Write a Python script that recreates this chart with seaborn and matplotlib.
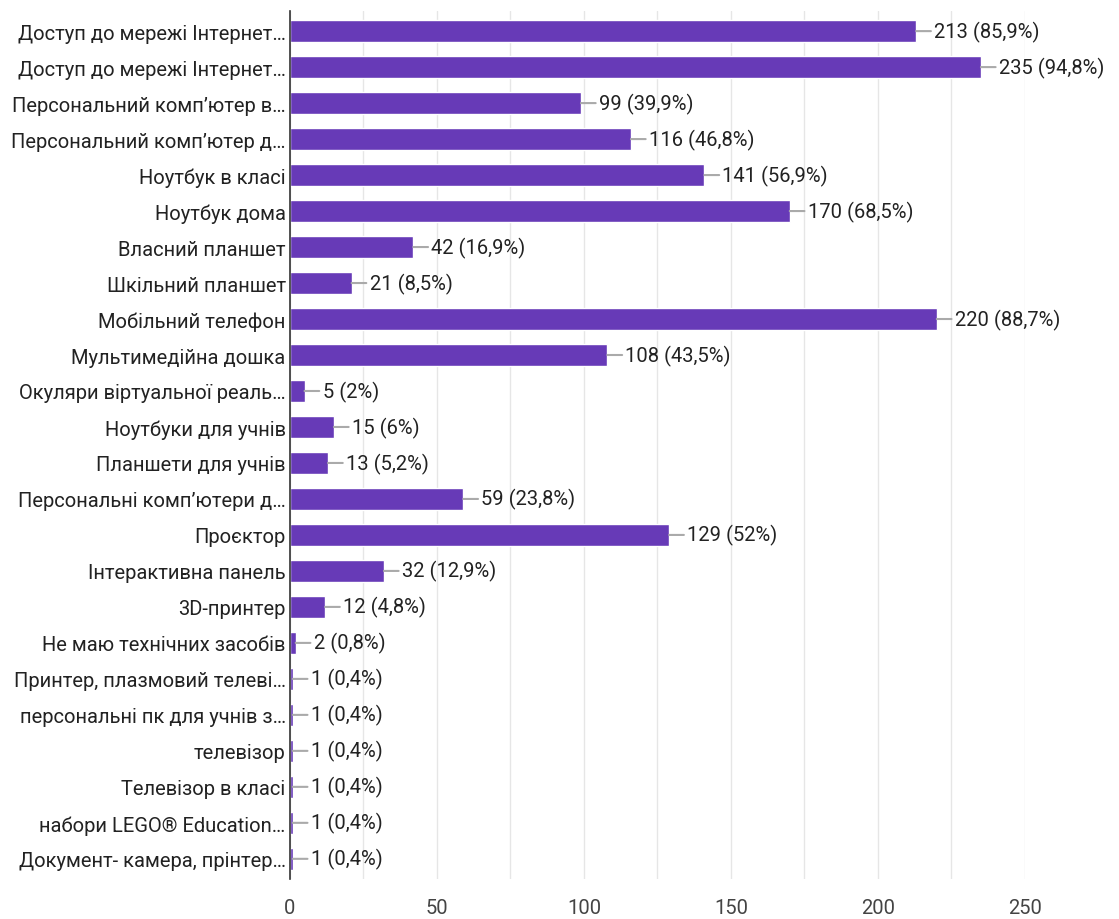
import pandas as pd
import seaborn as sns
import matplotlib.pyplot as plt

categories = [
    "Доступ до мережі Інтернет…",
    "Доступ до мережі Інтернет…",
    "Персональний комп’ютер в…",
    "Персональний комп’ютер д…",
    "Ноутбук в класі",
    "Ноутбук дома",
    "Власний планшет",
    "Шкільний планшет",
    "Мобільний телефон",
    "Мультимедійна дошка",
    "Окуляри віртуальної реаль…",
    "Ноутбуки для учнів",
    "Планшети для учнів",
    "Персональні комп’ютери д…",
    "Проєктор",
    "Інтерактивна панель",
    "3D-принтер",
    "Не маю технічних засобів",
    "Принтер, плазмовий телеві…",
    "персональні пк для учнів з…",
    "телевізор",
    "Телевізор в класі",
    "набори LEGO® Education…",
    "Документ- камера, прінтер…",
]
counts = [213, 235, 99, 116, 141, 170, 42, 21, 220, 108, 5, 15, 13, 59,
          129, 32, 12, 2, 1, 1, 1, 1, 1, 1]
percents = ["85,9", "94,8", "39,9", "46,8", "56,9", "68,5", "16,9", "8,5",
            "88,7", "43,5", "2", "6", "5,2", "23,8", "52", "12,9", "4,8",
            "0,8", "0,4", "0,4", "0,4", "0,4", "0,4", "0,4"]
x_ticks = [0, 50, 100, 150, 200, 250]

sns.set_style("white")
plt.rcParams["font.family"] = ["Roboto", "DejaVu Sans"]

df = pd.DataFrame({"pos": [str(i) for i in range(len(counts))], "count": counts})

fig = plt.figure(figsize=(11.19, 9.2), dpi=100)
ax = fig.add_axes([0.259, 0.0435, 0.657, 0.9435])

sns.barplot(data=df, x="count", y="pos", orient="h", color="#673ab7",
            saturation=1, width=0.62, ax=ax)

for i, (c, p) in enumerate(zip(counts, percents)):
    ax.annotate(f"{c} ({p}%)", xy=(c, i), xytext=(18, 0),
                textcoords="offset pixels", ha="left", va="center",
                fontsize=14.5, color="#222222",
                arrowprops=dict(arrowstyle="-", color="#aaaaaa", lw=1.5,
                                shrinkA=0, shrinkB=0, relpos=(0, 0.5)))

ax.set_xlim(0, 250)
ax.set_ylim(len(counts) - 0.44, -0.56)
ax.set_xticks(x_ticks)
ax.set_xticks(range(25, 250, 50), minor=True)
ax.grid(axis="x", which="both", color="#e6e6e6", lw=1)
ax.set_axisbelow(True)
ax.set_yticks(range(len(categories)))
ax.set_yticklabels(categories)
ax.tick_params(axis="y", labelsize=14.5, labelcolor="#222222", length=0, pad=3)
ax.tick_params(axis="x", labelsize=14.5, labelcolor="#444444", length=0, pad=14)
ax.set_xlabel("")
ax.set_ylabel("")
for side in ["top", "right", "bottom"]:
    ax.spines[side].set_visible(False)
ax.spines["left"].set_color("#333333")
ax.spines["left"].set_linewidth(1.2)

fig.savefig("out.png", dpi=100)
